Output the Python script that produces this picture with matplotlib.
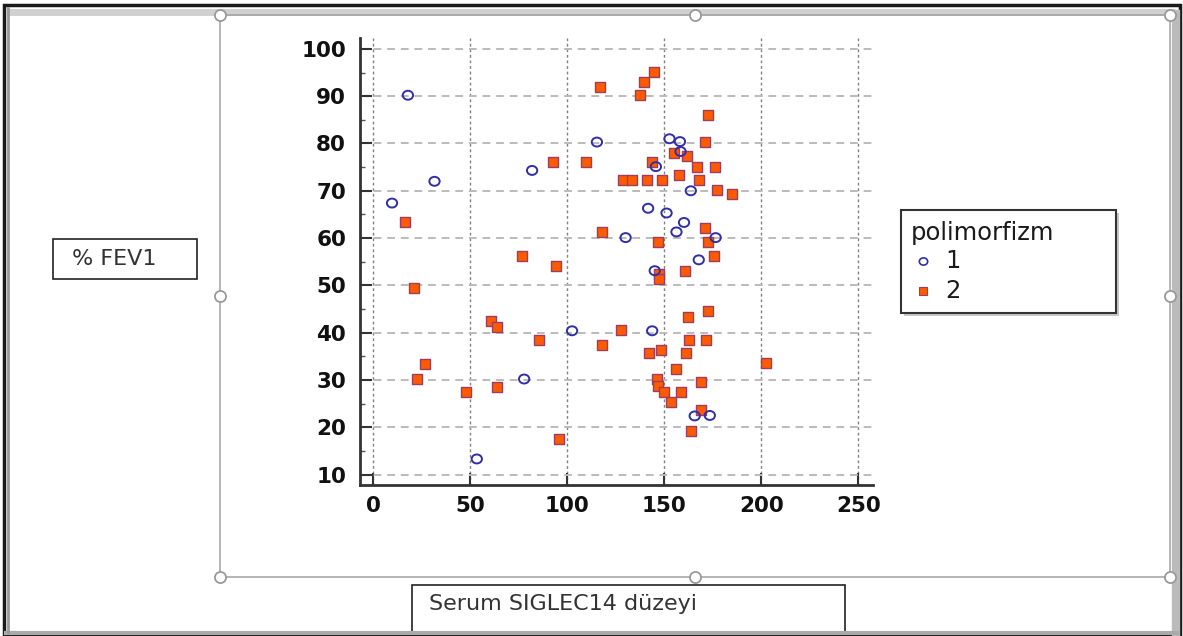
import numpy as np
import matplotlib
matplotlib.use("Agg")
import matplotlib.pyplot as plt
from matplotlib.lines import Line2D
from matplotlib.patches import Rectangle
from matplotlib.path import Path
from matplotlib.transforms import Affine2D

plt.rcParams["font.family"] = ["DejaVu Sans"]

# polimorfizm 1 (açık mavi daireler)
g1_x = [17.8, 31.5, 9.6, 81.8, 115.2, 152.6, 158.0, 158.3, 145.6, 163.6, 141.6, 151.1,
        160.1, 156.2, 130.0, 176.4, 167.7, 145.0, 102.4, 143.7, 77.7, 165.6, 173.4, 53.3]
g1_y = [90.2, 72.0, 67.4, 74.3, 80.3, 81.0, 80.4, 78.3, 75.1, 70.0, 66.3, 65.3,
        63.3, 61.3, 60.1, 60.1, 55.4, 53.1, 40.4, 40.4, 30.2, 22.4, 22.5, 13.3]

# polimorfizm 2 (turuncu kareler)
g2_x = [116.8, 144.7, 139.6, 137.5, 172.5, 170.8, 154.8, 161.7, 143.7, 92.4, 109.6, 166.8,
        176.1, 157.6, 128.4, 133.1, 141.1, 148.8, 167.7, 177.0, 184.8, 16.1, 170.8, 117.8,
        146.6, 172.5, 76.5, 175.6, 94.3, 160.8, 147.0, 147.0, 20.7, 172.5, 161.9, 60.7,
        63.6, 127.6, 85.4, 117.8, 162.7, 171.6, 148.0, 142.0, 160.9, 26.6, 202.3, 156.0,
        22.5, 146.4, 169.1, 146.8, 63.9, 47.5, 149.9, 158.4, 153.3, 169.1, 163.6, 95.8]
g2_y = [92.0, 95.1, 93.0, 90.2, 86.0, 80.3, 78.0, 77.3, 76.1, 76.1, 76.0, 75.1,
        75.1, 73.3, 72.2, 72.2, 72.2, 72.2, 72.2, 70.1, 69.3, 63.3, 62.2, 61.2,
        59.1, 59.1, 56.2, 56.3, 54.2, 53.1, 52.4, 51.4, 49.4, 44.5, 43.4, 42.4,
        41.3, 40.5, 38.4, 37.4, 38.5, 38.5, 36.3, 35.6, 35.6, 33.4, 33.5, 32.4,
        30.3, 30.3, 29.5, 28.7, 28.5, 27.5, 27.5, 27.5, 25.4, 23.6, 19.3, 17.5]

x_ticks = [0, 50, 100, 150, 200, 250]
y_ticks = [10, 20, 30, 40, 50, 60, 70, 80, 90, 100]
group_labels = ["1", "2"]
legend_title = "polimorfizm"
x_label = "Serum SIGLEC14 düzeyi"
y_label = "% FEV1"

W, H = 1183, 636
fig = plt.figure(figsize=(W / 100, H / 100), dpi=100)


def fx(x):
    return x / W


def fy(y):
    return 1 - y / H


def box(x0, y0, x1, y1, **kw):
    r = Rectangle((fx(x0), fy(y1)), (x1 - x0) / W, (y1 - y0) / H,
                  transform=fig.transFigure, **kw)
    fig.add_artist(r)


def line(xs, ys, **kw):
    fig.add_artist(Line2D([fx(v) for v in xs], [fy(v) for v in ys],
                          transform=fig.transFigure, **kw))


# dış çerçeve (ekran görüntüsü kenarı)
line([1176, 1176], [14, 633], color="#bbbbbb", lw=6)
line([10, 1172], [12, 12], color="#d0d0d0", lw=5)
line([6, 1178], [633, 633], color="#aaaaaa", lw=3)
line([8, 8], [8, 632], color="#999999", lw=2)
box(4, 5, 1180, 636, fill=False, edgecolor="#1a1a1a", lw=2.5)

# seçim çerçevesi ve tutamaçlar
sel = dict(color="#a0a0a0", lw=1.1)
line([220, 1170], [15, 15], **sel)
line([220, 1170], [577, 577], **sel)
line([220, 220], [15, 577], **sel)
line([1170, 1170], [15, 577], **sel)
for hx, hy in [(220, 15), (695, 15), (1170, 15), (220, 296), (1170, 296),
               (220, 577), (695, 577), (1170, 577)]:
    line([hx], [hy], marker="o", markersize=8, mfc="white", mec="#999999", mew=1.3)

# grafik alanı
ax = fig.add_axes([fx(360), fy(484.5), (873 - 360) / W, (484.5 - 38) / H])
ax.patch.set_alpha(0)
ellipse = Path.unit_circle().transformed(Affine2D().scale(1.15, 1.0))
ax.scatter(g2_x, g2_y, marker="s", s=62, c="#ff5a00", edgecolors="#9c3f5e",
           linewidths=1.0, zorder=3)
ax.scatter(g1_x, g1_y, marker=ellipse, s=55, facecolors="none", edgecolors="#2f2fa8",
           linewidths=1.4, zorder=4)

ax.set_xlim(-6.9, 257.5)
ax.set_ylim(7.9, 102.3)
ax.set_xticks(x_ticks)
ax.set_yticks(y_ticks)
ax.set_yticks([v + 5 for v in y_ticks[:-1]], minor=True)
for s in ["top", "right"]:
    ax.spines[s].set_visible(False)
for s in ["left", "bottom"]:
    ax.spines[s].set_linewidth(2)
    ax.spines[s].set_color("#333333")
ax.tick_params(which="major", direction="in", length=8.5, width=1.5, color="#333333",
               labelsize=15.5, labelcolor="#111111")
ax.tick_params(which="minor", direction="in", length=3.5, width=1, color="#555555")
ax.tick_params(axis="y", pad=10)
ax.tick_params(axis="x", pad=8)
for lab in ax.get_xticklabels() + ax.get_yticklabels():
    lab.set_fontweight("bold")
ax.set_axisbelow(True)
ax.xaxis.grid(True, color="#808080", ls=(0, (2, 2)), lw=1.0)
ax.yaxis.grid(True, color="#bbbbbb", ls=(0, (4, 3)), lw=1.4)

# eksen etiket kutuları
box(53, 239, 197, 279, fill=False, edgecolor="#222222", lw=1.2)
fig.text(fx(72), fy(259), y_label, fontsize=16, color="#333333", va="center", ha="left")
box(412, 585, 845, 632, fill=False, edgecolor="#222222", lw=1.2)
fig.text(fx(429), fy(604), x_label, fontsize=16, color="#333333", va="center", ha="left")

# lejant
box(904, 213, 1119, 316, facecolor="#c8c8c8", edgecolor="none")
box(901, 210, 1116, 313, facecolor="white", edgecolor="#333333", lw=1.5)
fig.text(fx(911), fy(233), legend_title, fontsize=17.5, color="#1a1a1a", va="center")
line([923], [261], marker=ellipse, markersize=6, mfc="none", mec="#2f2fa8", mew=1.2)
line([923], [291], marker="s", markersize=5.5, mfc="#ff5a00", mec="#9c3f5e", mew=0.8)
fig.text(fx(945), fy(261), group_labels[0], fontsize=17.5, color="#1a1a1a", va="center")
fig.text(fx(945), fy(291), group_labels[1], fontsize=17.5, color="#1a1a1a", va="center")

fig.savefig("out.png", dpi=100)
